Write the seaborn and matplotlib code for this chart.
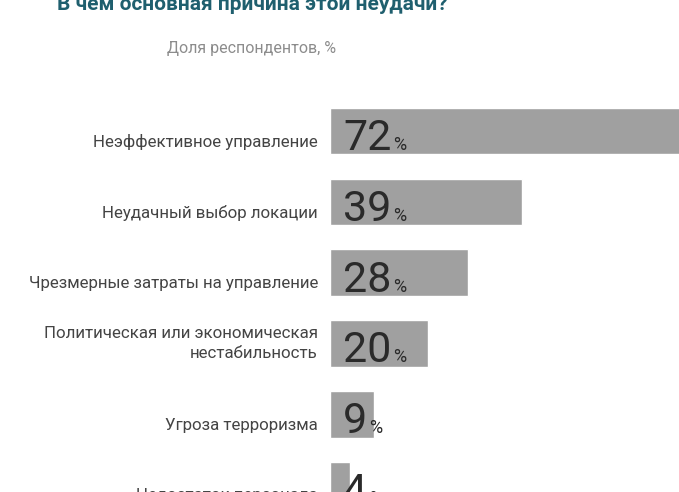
import matplotlib
matplotlib.use("Agg")
import matplotlib.pyplot as plt
from matplotlib import font_manager
import seaborn as sns
import pandas as pd

categories = [
    "Неэффективное управление",
    "Неудачный выбор локации",
    "Чрезмерные затраты на управление",
    "Политическая или экономическая\nнестабильность",
    "Угроза терроризма",
    "Недостаток персонала",
]
values = [72, 39, 28, 20, 9, 4]

title = "В чем основная причина этой неудачи?"
subtitle = "Доля респондентов, %"

# narrow font if we have it
font = "DejaVu Sans"
for f in ["Liberation Sans Narrow", "Roboto", "Liberation Sans"]:
    try:
        font_manager.findfont(f, fallback_to_default=False)
        font = f
        break
    except Exception:
        pass

sns.set_style("white")
plt.rcParams["font.family"] = [font, "DejaVu Sans"]

df = pd.DataFrame({"cat": categories, "val": values})

fig = plt.figure(figsize=(6.79, 4.92), dpi=100)
ax = fig.add_axes([0.486, 0.0, 0.514, 0.837])

sns.barplot(data=df, x="val", y="cat", orient="h", color="#a0a0a0",
            saturation=1, width=0.66, ax=ax)

ax.set_xlim(0, 70.9)
ax.set_ylim(5.10, -0.72)
ax.set_xticks([])
ax.set_yticks([])
ax.set_xlabel("")
ax.set_ylabel("")
sns.despine(ax=ax, left=True, bottom=True)

fig.canvas.draw()
renderer = fig.canvas.get_renderer()

for i, (cat, v) in enumerate(zip(categories, values)):
    dy = -11 if "\n" not in cat else 0
    ax.annotate(cat, xy=(0, i), xytext=(-12 * 0.72, dy * 0.72),
                textcoords="offset points", ha="right", va="center",
                fontsize=12.2, color="#444444", linespacing=1.45,
                annotation_clip=False)
    num = ax.annotate(str(v), xy=(0, i), xytext=(13 * 0.72, -19 * 0.72),
                      textcoords="offset points", ha="left", va="baseline",
                      fontsize=31, color="#2a2a2a", annotation_clip=False)
    w = num.get_window_extent(renderer).width
    ax.annotate("%", xy=(0, i), xytext=((13 + w + 2) * 0.72, -19 * 0.72),
                textcoords="offset points", ha="left", va="baseline",
                fontsize=13, color="#2a2a2a", annotation_clip=False)

fig.text(0.371, 1 - 10 / 492, title, ha="center", va="baseline",
         fontsize=15, fontweight="bold", color="#1f5f6e")
fig.text(0.371, 1 - 48 / 492, subtitle, ha="center", va="center",
         fontsize=11.5, color="#8c8c8c")

fig.savefig("out.png", dpi=100)
